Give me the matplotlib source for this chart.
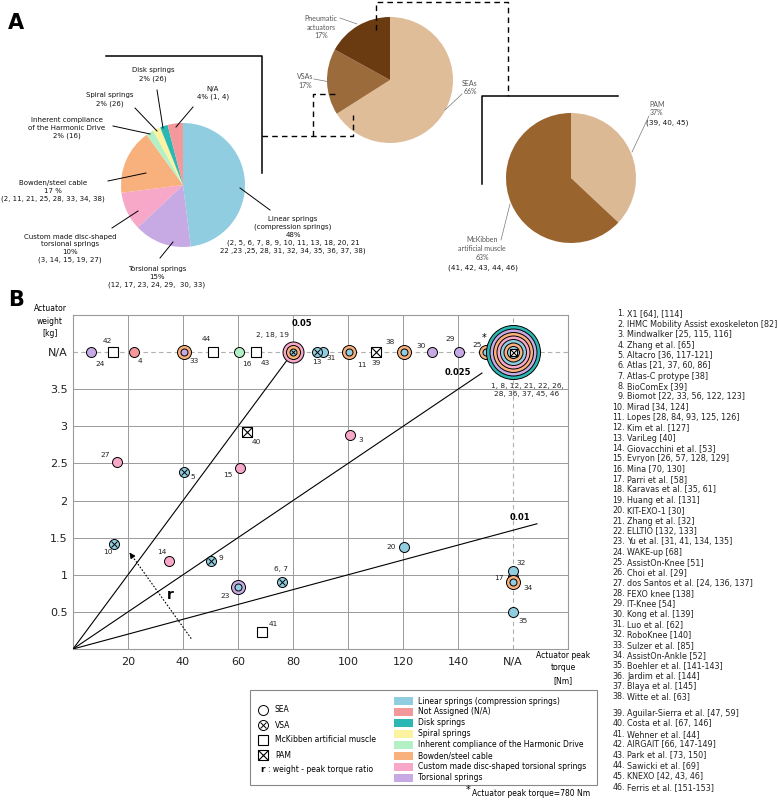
import numpy as np
import matplotlib.pyplot as plt
from matplotlib.patches import Rectangle

NA = np.nan

# ---------------- panel A data ----------------
spring_share = [48, 15, 10, 17, 2, 2, 2, 4]
spring_codes = ["L", "T", "C", "B", "H", "S", "D", "N"]
spring_labels = [
    "Linear springs\n(compression springs)\n48%\n(2, 5, 6, 7, 8, 9, 10, 11, 13, 18, 20, 21\n22 ,23 ,25, 28, 31, 32, 34, 35, 36, 37, 38)",
    "Torsional springs\n15%\n(12, 17, 23, 24, 29,  30, 33)",
    "Custom made disc-shaped\ntorsional springs\n10%\n(3, 14, 15, 19, 27)",
    "Bowden/steel cable\n17 %\n(2, 11, 21, 25, 28, 33, 34, 38)",
    "Inherent compliance\nof the Harmonic Drive\n2% (16)",
    "Spiral springs\n2% (26)",
    "Disk springs\n2% (26)",
    "N/A\n4% (1, 4)",
]
act_share = [66, 17, 17]
act_labels = ["SEAs\n66%", "VSAs\n17%", "Pneumatic\nactuators\n17%"]
pneu_share = [37, 63]
pneu_labels = ["PAM\n37%", "McKibben\nartificial muscle\n63%"]
pneu_refs = ["(39, 40, 45)", "(41, 42, 43, 44, 46)"]

# ---------------- panel B data ----------------
pt_label = ["24", "42", "4", "33", "44", "16", "43", "2, 18, 19",
            "31", "13", "11", "39", "38", "30", "29", "25",
            "1, 8, 12, 21, 22, 26,\n28, 36, 37, 45, 46",
            "40", "3", "27", "5", "15", "10", "14", "9", "23", "6, 7",
            "41", "20", "17", "32", "34", "35"]
pt_torque = [6.4, 14.7, 22.0, 40.5, 51.0, 60.4, 66.4, 80.0,
             90.8, 88.6, 100.4, 110.2, 120.4, 130.7, 140.5, 150.2,
             NA,
             63.4, 100.7, 15.9, 40.4, 60.7, 14.8, 35.0, 50.3, 59.9, 76.0,
             68.7, 120.3, NA, NA, NA, NA]
pt_weight = [NA, NA, NA, NA, NA, NA, NA, NA,
             NA, NA, NA, NA, NA, NA, NA, NA,
             NA,
             2.92, 2.88, 2.52, 2.38, 2.44, 1.41, 1.19, 1.18, 0.84, 0.90,
             0.23, 1.37, 0.97, 1.05, 0.90, 0.50]
pt_kind = ["SEA", "McK", "SEA", "SEA", "McK", "SEA", "McK", "VSA",
           "SEA", "VSA", "SEA", "PAM", "SEA", "SEA", "SEA", "SEA",
           "PAM",
           "PAM", "SEA", "SEA", "VSA", "SEA", "VSA", "SEA", "VSA", "SEA", "VSA",
           "McK", "SEA", "SEA", "SEA", "SEA", "SEA"]
pt_springs = ["T", "", "N", "BT", "", "H", "", "CBL",
              "L", "L", "BL", "", "BL", "T", "T", "BL",
              "DTBCLBL",
              "", "C", "C", "L", "C", "L", "C", "L", "TL", "L",
              "", "L", "T", "L", "BL", "L"]

ratios = [0.05, 0.025, 0.01]
ratio_end = [80, 148.7, 168.7]

x_ticks = [20, 40, 60, 80, 100, 120, 140, 160]
x_labels = ["20", "40", "60", "80", "100", "120", "140", "N/A"]
y_ticks = [0.5, 1, 1.5, 2, 2.5, 3, 3.5, 4]
y_labels = ["0.5", "1", "1.5", "2", "2.5", "3", "3.5", "N/A"]

legend_codes = ["L", "N", "D", "S", "H", "B", "C", "T"]
legend_names = ["Linear springs (compression springs)", "Not Assigned (N/A)", "Disk springs",
                "Spiral springs", "Inherent compliance of the Harmonic Drive", "Bowden/steel cable",
                "Custom made disc-shaped torsional springs", "Torsional springs"]
legend_kinds = ["SEA", "VSA", "McK", "PAM"]
legend_kind_names = ["SEA", "VSA", "McKibben artificial muscle", "PAM"]

refs = ["X1 [64], [114]", "IHMC Mobility Assist exoskeleton [82]", "Mindwalker [25, 115, 116]",
        "Zhang et al. [65]", "Altacro [36, 117-121]", "Atlas [21, 37, 60, 86]", "Atlas-C protype [38]",
        "BioComEx [39]", "Biomot [22, 33, 56, 122, 123]", "Mirad [34, 124]",
        "Lopes [28, 84, 93, 125, 126]", "Kim et al. [127]", "VariLeg [40]", "Giovacchini et al. [53]",
        "Evryon [26, 57, 128, 129]", "Mina [70, 130]", "Parri et al. [58]", "Karavas et al. [35, 61]",
        "Huang et al. [131]", "KIT-EXO-1 [30]", "Zhang et al. [32]", "ELLTIO [132, 133]",
        "Yu et al. [31, 41, 134, 135]", "WAKE-up [68]", "AssistOn-Knee [51]", "Choi et al. [29]",
        "dos Santos et al. [24, 136, 137]", "FEXO knee [138]", "IT-Knee [54]", "Kong et al. [139]",
        "Luo et al. [62]", "RoboKnee [140]", "Sulzer et al. [85]", "AssistOn-Ankle [52]",
        "Boehler et al. [141-143]", "Jardim et al. [144]", "Blaya et al. [145]", "Witte et al. [63]",
        "Aguilar-Sierra et al. [47, 59]", "Costa et al. [67, 146]", "Wehner et al. [44]",
        "AIRGAIT [66, 147-149]", "Park et al. [73, 150]", "Sawicki et al. [69]", "KNEXO [42, 43, 46]",
        "Ferris et al. [151-153]"]

# ---------------- styles / layout ----------------
spring_colors = {"L": "#90cde0", "N": "#f4999b", "D": "#2bb8b4", "S": "#fbf3a0",
                 "H": "#b3f0c6", "B": "#f8b07c", "C": "#f7a8c9", "T": "#c7aae4"}
act_colors = ["#dfbd98", "#9c6b3c", "#6a3a10"]
pneu_colors = ["#dcb995", "#9a642f"]
NA_T, NA_W = 160, 4.0
PT = 0.72  # px -> points at 100 dpi
GREY = "#9a9a9a"

# label offsets in pixels (right, down)
lab_off = {"24": (9, 12), "42": (-6, -11), "4": (6, 9), "33": (10, 9), "44": (-7, -13),
           "16": (8, 12), "43": (10, 11), "2, 18, 19": (-20, -17), "13": (0, 10), "31": (8, 6),
           "11": (13, 13), "39": (0, 11), "38": (-14, -10), "30": (-11, -6), "29": (-9, -13),
           "25": (-9, -7), "1, 8, 12, 21, 22, 26,\n28, 36, 37, 45, 46": (14, 38),
           "40": (9, 10), "3": (11, 5), "27": (-12, -7), "5": (9, 5), "15": (-12, 7),
           "10": (-6, 8), "14": (-7, -9), "9": (10, -3), "23": (-13, 9), "6, 7": (-1, -13),
           "41": (11, -8), "20": (-13, 0), "17": (-14, 1), "32": (8, -8), "34": (15, 6), "35": (10, 9)}

W, H = 778, 800
fig = plt.figure(figsize=(W / 100, H / 100), dpi=100)


def px_axes(x0, y0, x1, y1):
    return fig.add_axes([x0 / W, 1 - y1 / H, (x1 - x0) / W, (y1 - y0) / H])


def pie(box, shares, colors):
    ax = px_axes(*box)
    ax.pie(shares, colors=colors, startangle=90, counterclock=False,
           wedgeprops=dict(linewidth=0))
    ax.set_xlim(-1, 1)
    ax.set_ylim(-1, 1)
    return ax


def draw_marker(ax, x, y, kind, springs, z=5):
    n = len(springs)
    inner = 12 if kind in ("PAM", "McK") else 7
    if n == 1 and inner == 7:
        diams = [10]
    else:
        diams = [inner + 7 * (n - 1 - i) for i in range(n)]
    fills = [spring_colors[c] for c in springs]
    if n == 0 and kind in ("SEA", "VSA"):
        diams, fills = [10], ["white"]
    for d, fc in zip(diams, fills):
        ax.plot(x, y, "o", ms=d * PT, mfc=fc, mec="k", mew=0.7, zorder=z)
        z += 0.01
    if kind == "VSA":
        ax.plot(x, y, "x", ms=diams[-1] * PT * 0.68, mec="k", mew=0.7, zorder=z)
    if kind in ("PAM", "McK"):
        s = 7 if n else 10
        ax.plot(x, y, "s", ms=s * PT, mfc="white", mec="k", mew=0.8, zorder=z)
        if kind == "PAM":
            ax.plot(x, y, "x", ms=s * PT, mec="k", mew=0.8, zorder=z + 0.005)


# ---------------- panel A ----------------
pie((121, 123, 245, 247), spring_share, [spring_colors[c] for c in spring_codes])
pie((327, 17, 453, 143), act_share, act_colors)
pie((506, 113, 636, 243), pneu_share, pneu_colors)

# ---------------- panel B ----------------
axb = px_axes(73, 315, 568, 649)
axb.set_xlim(0, 180)
axb.set_ylim(0, 4.5)
for v in x_ticks[:-1]:
    axb.axvline(v, color=GREY, lw=0.7, zorder=1)
for v in y_ticks[:-1]:
    axb.axhline(v, color=GREY, lw=0.7, zorder=1)
axb.axvline(NA_T, color="#b0b0b0", lw=0.8, ls=(0, (4, 3)), zorder=1)
axb.axhline(NA_W, color="#b0b0b0", lw=0.8, ls=(0, (4, 3)), zorder=1)
for s in axb.spines.values():
    s.set_color(GREY)
    s.set_linewidth(0.8)
axb.set_xticks(x_ticks, x_labels)
axb.set_yticks(y_ticks, y_labels)
axb.tick_params(length=0, labelsize=8, colors="#222")
axb.tick_params(axis="x", pad=6)
axb.tick_params(axis="y", pad=4)

lab_dxy = {0.05: (9, -29), 0.025: (-24, -1), 0.01: (-17, -6)}
for r, xe in zip(ratios, ratio_end):
    axb.plot([0, xe], [0, r * xe], color="k", lw=0.8, zorder=3)
    dx, dy = lab_dxy[r]
    axb.annotate(f"{r:g}", (xe, r * xe), xytext=(dx * PT, -dy * PT), textcoords="offset points",
                 ha="center", va="center", fontsize=6, fontweight="bold")

# weight / peak torque ratio arrow
axb.plot([43, 20.6], [0.14, 1.30], color="k", lw=0.8, ls=(0, (1.5, 1.5)), zorder=3)
axb.annotate("", xy=(20, 1.33), xytext=(21.5, 1.25),
             arrowprops=dict(arrowstyle="-|>", color="k", lw=0.8, mutation_scale=8), zorder=3)
axb.text(35.4, 0.73, "r", fontsize=10, fontweight="bold", ha="center", va="center")

for i, lab in enumerate(pt_label):
    x = NA_T if np.isnan(pt_torque[i]) else pt_torque[i]
    y = NA_W if np.isnan(pt_weight[i]) else pt_weight[i]
    draw_marker(axb, x, y, pt_kind[i], pt_springs[i], z=5 + i * 0.1)
    dx, dy = lab_off[lab]
    axb.annotate(lab, (x, y), xytext=(dx * PT, -dy * PT), textcoords="offset points",
                 ha="center", va="center", fontsize=5.3, color="#222", linespacing=1.3,
                 zorder=20)
    if lab == "25":
        axb.annotate("*", (x, y), xytext=(-2 * PT, 14 * PT), textcoords="offset points",
                     ha="center", va="center", fontsize=7, zorder=20)

# ---------------- overlay in pixel coordinates ----------------
ov = fig.add_axes([0, 0, 1, 1], zorder=10)
ov.set_xlim(0, W)
ov.set_ylim(H, 0)
ov.axis("off")

ov.text(8, 23, "A", fontsize=15, fontweight="bold", ha="left", va="center")
ov.text(8, 300, "B", fontsize=15, fontweight="bold", ha="left", va="center")

# left pie labels and leader lines
left_txt = [(293, 235), (157, 277), (70, 248.5), (53, 191), (67, 128), (110, 99.5), (153, 74.5), (213, 93)]
left_lead = [((240, 188), (270, 210)), ((173, 242), (160, 258)), ((138, 211), (112, 228)),
             ((146, 173), (108, 181)), ((150, 134), (113, 126)), ((157, 131), (135, 108)),
             ((163, 128), (157, 90)), ((176, 127), (193, 107))]
for lab, (tx, ty), (p0, p1) in zip(spring_labels, left_txt, left_lead):
    ov.text(tx, ty, lab, fontsize=5, ha="center", va="center", linespacing=1.35, color="#111")
    ov.plot([p0[0], p1[0]], [p0[1], p1[1]], color="k", lw=0.7)

# middle pie labels
mid_txt = [(470, 87.5), (305, 81), (321, 27)]
mid_lead = [((445, 110), (462, 94)), ((330, 82), (314, 79)), ((357, 24), (340, 18))]
for lab, (tx, ty), (p0, p1) in zip(act_labels, mid_txt, mid_lead):
    ov.text(tx, ty, lab, fontsize=5, family="Lato", ha="center", va="center",
            linespacing=1.3, color="#555")
    ov.plot([p0[0], p1[0]], [p0[1], p1[1]], color="#777", lw=0.5)

# right pie labels
ov.text(657, 108.5, pneu_labels[0], fontsize=5, family="Lato", ha="center", va="center",
        linespacing=1.3, color="#555")
ov.text(646, 123, pneu_refs[0], fontsize=5.2, ha="left", va="center", color="#111")
ov.plot([649, 632], [116, 152], color="#777", lw=0.5)
ov.text(482, 248.5, pneu_labels[1], fontsize=5, family="Lato", ha="center", va="center",
        linespacing=1.3, color="#555")
ov.text(483, 268, pneu_refs[1], fontsize=5.2, ha="center", va="center", color="#111")
ov.plot([501, 510], [240, 204], color="#777", lw=0.5)

# brackets linking the pies
ov.plot([106, 262, 262], [56, 56, 173], color="k", lw=1.1)
ov.plot([262, 353, 353], [136, 136, 115], color="k", lw=1.0, ls=(0, (4, 3)))
ov.plot([313, 313, 338], [136, 94, 94], color="k", lw=1.0, ls=(0, (4, 3)))
ov.plot([376, 376, 508, 508], [30, 2, 2, 96], color="k", lw=1.0, ls=(0, (4, 3)))
ov.plot([482, 482, 618], [184, 96, 96], color="k", lw=1.1)

# axis titles of panel B
ov.text(50, 321, "Actuator\nweight\n[kg]", fontsize=5.5, ha="center", va="center", linespacing=1.45)
ov.text(563, 668, "Actuator peak\ntorque\n[Nm]", fontsize=5.5, ha="center", va="center", linespacing=1.45)

# legend box
ov.add_patch(Rectangle((250, 690), 347, 95, fill=False, ec="#888", lw=0.8))
for i, (k, name) in enumerate(zip(legend_kinds, legend_kind_names)):
    y = 710 + i * 15
    draw_marker(ov, 263, y, k, "")
    ov.text(275, y, name, fontsize=5.5, va="center", ha="left")
ov.text(263, 769, "r", fontsize=6.5, fontweight="bold", va="center", ha="center")
ov.text(268, 769, ": weight - peak torque ratio", fontsize=5.5, va="center", ha="left")
for i, (c, name) in enumerate(zip(legend_codes, legend_names)):
    y = 701 + i * 10.95
    ov.add_patch(Rectangle((394, y - 4), 19, 8, color=spring_colors[c], lw=0))
    ov.text(418, y, name, fontsize=5.5, va="center", ha="left")

ov.text(471, 790, "*", fontsize=7, va="center", ha="right")
ov.text(472, 793, "Actuator peak torque=780 Nm", fontsize=5.5, va="center", ha="left")

# reference list
for i, name in enumerate(refs):
    n = i + 1
    y = 314 + i * 10.35 if n <= 38 else 713 + (n - 39) * 10.6
    ov.text(625, y, f"{n}.", fontsize=5.8, ha="right", va="center", color="#222")
    ov.text(627.5, y, name, fontsize=5.8, ha="left", va="center", color="#222")

fig.savefig("out.png", dpi=100)
